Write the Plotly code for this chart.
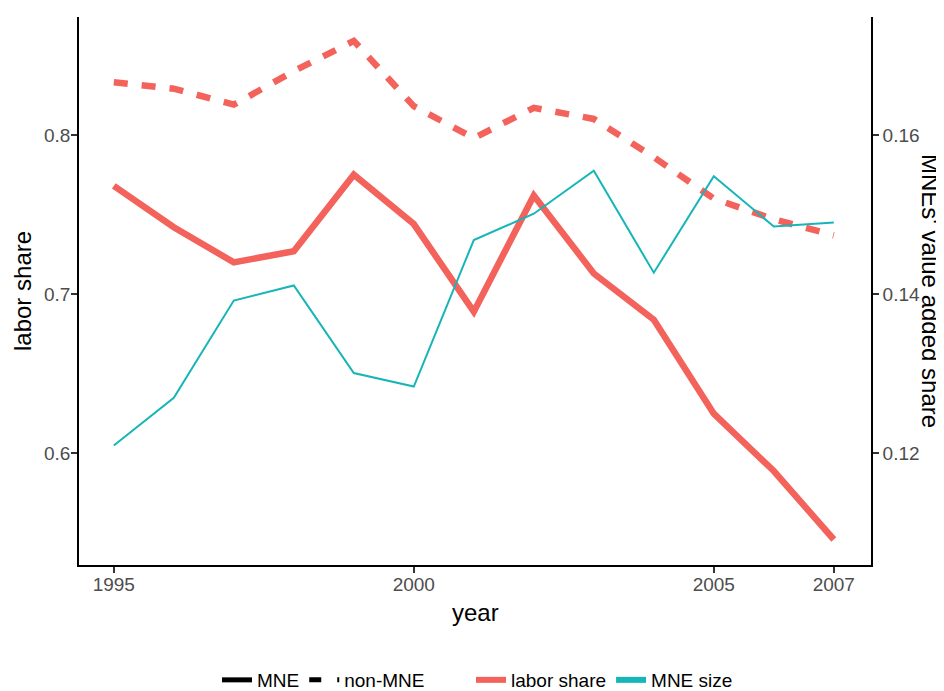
import plotly.graph_objects as go

years = [1995, 1996, 1997, 1998, 1999, 2000, 2001, 2002, 2003, 2004, 2005, 2006, 2007]
labor_share_mne = [0.768, 0.742, 0.720, 0.727, 0.775, 0.744, 0.689, 0.762, 0.713, 0.684, 0.625, 0.589, 0.546]
labor_share_non_mne = [0.833, 0.829, 0.819, 0.840, 0.859, 0.818, 0.798, 0.817, 0.810, 0.786, 0.760, 0.747, 0.737]
mne_size = [0.1210, 0.1270, 0.1392, 0.1411, 0.1301, 0.1284, 0.1468, 0.1501, 0.1555, 0.1427, 0.1548, 0.1485, 0.1490]

x_ticks = [1995, 2000, 2005, 2007]
y_left_ticks = [0.6, 0.7, 0.8]
y_right_ticks = [0.12, 0.14, 0.16]

RED = "#F3635C"
CYAN = "#17B5B8"
FONT = "Liberation Sans, Arial, sans-serif"
TICKC = "#4D4D4D"

fig = go.Figure()
fig.add_trace(go.Scatter(x=years, y=labor_share_mne, mode="lines",
                         line=dict(color=RED, width=6.5), showlegend=False, yaxis="y"))
fig.add_trace(go.Scatter(x=years, y=labor_share_non_mne, mode="lines",
                         line=dict(color=RED, width=6.5, dash="14px,14px"), showlegend=False, yaxis="y"))
fig.add_trace(go.Scatter(x=years, y=mne_size, mode="lines",
                         line=dict(color=CYAN, width=2), showlegend=False, yaxis="y2"))

# legend-only traces
fig.add_trace(go.Scatter(x=[None], y=[None], mode="lines", name="MNE",
                         line=dict(color="black", width=5), legend="legend"))
fig.add_trace(go.Scatter(x=[None], y=[None], mode="lines", name="non-MNE",
                         line=dict(color="black", width=5, dash="12px,16px"), legend="legend"))
fig.add_trace(go.Scatter(x=[None], y=[None], mode="lines", name="labor share",
                         line=dict(color=RED, width=6), legend="legend2"))
fig.add_trace(go.Scatter(x=[None], y=[None], mode="lines", name="MNE size",
                         line=dict(color=CYAN, width=6), legend="legend2"))

# page body has an 8px margin: work in screen pixels, shift by OFF
OFF = 8
W, H = 944 - OFF, 691 - OFF
L, R, T, B = 79 - OFF, 73, 17 - OFF, 126
pw, ph = W - L - R, H - T - B

def px_x(p):
    return (p - OFF - L) / pw

def px_y(p):
    return (H - B - (p - OFF)) / ph

axis_common = dict(showgrid=False, zeroline=False, showline=True, linecolor="black",
                   linewidth=1.6, ticks="outside", ticklen=6, tickwidth=1.5,
                   tickcolor="#333333", tickfont=dict(family=FONT, size=19, color=TICKC))

fig.update_layout(
    width=W, height=H,
    margin=dict(l=L, r=R, t=T, b=B, autoexpand=False),
    paper_bgcolor="white", plot_bgcolor="white",
    font=dict(family=FONT, size=19, color="black"),
    xaxis=dict(range=[1994.42, 2007.62], tickvals=x_ticks, ticktext=[str(v) for v in x_ticks],
               ticklabelstandoff=-5, **axis_common),
    yaxis=dict(range=[0.530, 0.874], tickvals=y_left_ticks, ticktext=[f"{v:.1f}" for v in y_left_ticks],
               ticklabelstandoff=-3, **axis_common),
    yaxis2=dict(range=[0.106, 0.1748], tickvals=y_right_ticks, ticktext=[f"{v:.2f}" for v in y_right_ticks],
                overlaying="y", side="right", **axis_common),
    legend=dict(orientation="h", x=px_x(217), xanchor="left", y=px_y(680), yanchor="middle",
                font=dict(family=FONT, size=19, color="black"), bgcolor="rgba(0,0,0,0)",
                itemwidth=30),
    legend2=dict(orientation="h", x=px_x(471), xanchor="left", y=px_y(680), yanchor="middle",
                 font=dict(family=FONT, size=19, color="black"), bgcolor="rgba(0,0,0,0)",
                 itemwidth=30),
    annotations=[
        dict(text="labor share", xref="paper", yref="paper", x=px_x(22), y=px_y(291),
             xanchor="center", yanchor="middle", textangle=-90, showarrow=False,
             font=dict(family=FONT, size=24, color="black")),
        dict(text="MNEs' value added share", xref="paper", yref="paper", x=px_x(931), y=px_y(291),
             xanchor="center", yanchor="middle", textangle=90, showarrow=False,
             font=dict(family=FONT, size=24, color="black")),
        dict(text="year", xref="paper", yref="paper", x=px_x(475), y=px_y(612),
             xanchor="center", yanchor="middle", showarrow=False,
             font=dict(family=FONT, size=24, color="black")),
    ],
)

fig.write_html("out.html")
